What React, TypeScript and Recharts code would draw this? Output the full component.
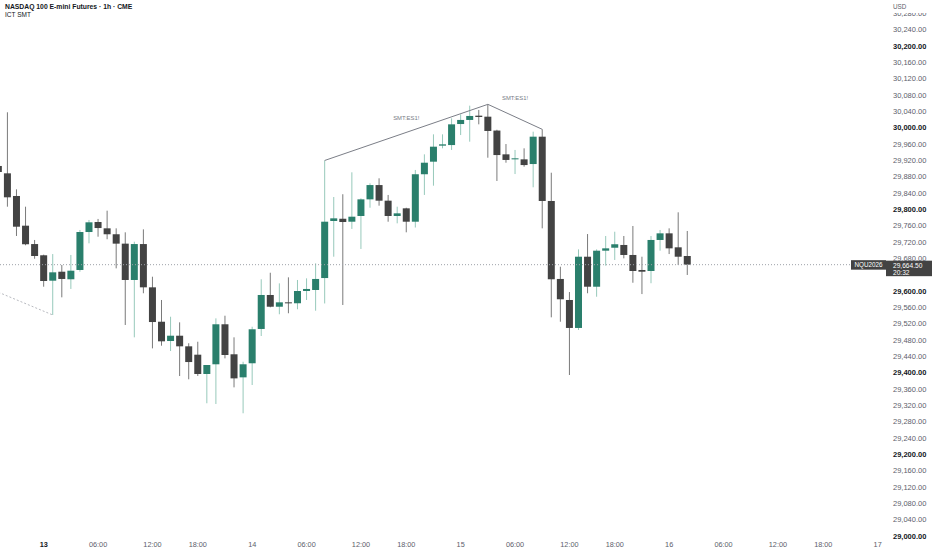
import React from "react";
import { ComposedChart, Bar, XAxis, YAxis, ReferenceLine } from "recharts";

// NQ 1h candles (oldest first)
const opens = [
  29906.25, 29888.25, 29832.75, 29760.0, 29715.0, 29687.5, 29625.25, 29647.25, 29628.75, 29651.5,
  29744.5, 29769.0, 29753.5, 29739.0, 29716.0, 29627.0, 29715.0, 29609.0, 29524.75, 29477.5,
  29490.5, 29464.5, 29444.0, 29396.75, 29420.5, 29518.5, 29445.0, 29388.5, 29423.0, 29507.0,
  29590.25, 29561.5, 29572.25, 29570.0, 29600.0, 29602.5, 29631.75, 29771.5, 29777.0, 29769.75,
  29783.75, 29824.5, 29859.5, 29821.25, 29783.75, 29802.5, 29769.75, 29886.0, 29916.75, 29956.0,
  29957.5, 30009.0, 30019.0, 30029.5, 30027.0, 29993.0, 29934.75, 29922.5, 29922.5, 29911.0,
  29978.0, 29820.5, 29629.5, 29578.0, 29509.5, 29684.0, 29610.5, 29698.75, 29706.0, 29712.75,
  29688.25, 29651.5, 29649.0, 29725.0, 29741.25, 29707.0, 29685.75,
];
const highs = [
  29925.75, 30037.75, 29849.0, 29806.5, 29725.0, 29689.0, 29690.5, 29663.75, 29688.25, 29749.5,
  29774.0, 29776.5, 29796.75, 29753.5, 29743.75, 29720.75, 29751.0, 29635.0, 29578.0, 29537.0,
  29523.25, 29472.0, 29475.75, 29418.75, 29533.0, 29539.5, 29486.5, 29426.75, 29512.5, 29628.75,
  29644.75, 29618.75, 29633.5, 29627.0, 29631.0, 29667.75, 29919.75, 29830.25, 29837.0, 29890.75,
  29827.0, 29863.75, 29876.0, 29835.25, 29806.5, 29804.0, 29896.5, 29934.75, 29983.75, 29983.75,
  30023.0, 30032.75, 30054.0, 30043.5, 30057.25, 29995.0, 29960.0, 29945.5, 29949.5, 29990.25,
  29996.0, 29889.75, 29659.5, 29597.5, 29702.0, 29739.5, 29702.0, 29734.75, 29745.25, 29734.75,
  29759.25, 29684.0, 29734.75, 29749.5, 29753.5, 29792.75, 29747.0,
];
const lows = [
  29872.0, 29806.5, 29734.75, 29712.0, 29679.0, 29610.5, 29541.25, 29584.5, 29605.0, 29647.25,
  29716.75, 29733.0, 29726.75, 29655.5, 29516.75, 29486.5, 29594.5, 29459.5, 29466.0, 29453.0,
  29391.75, 29383.75, 29392.0, 29325.0, 29323.25, 29435.0, 29364.0, 29300.5, 29369.75, 29489.75,
  29560.0, 29543.0, 29545.5, 29555.25, 29578.0, 29551.75, 29569.5, 29684.0, 29565.75, 29752.0,
  29703.0, 29804.0, 29809.0, 29769.75, 29765.75, 29743.75, 29755.5, 29835.25, 29858.0, 29949.5,
  29945.5, 29982.0, 29965.75, 30008.25, 29926.5, 29869.5, 29914.25, 29886.5, 29904.5, 29854.0,
  29753.5, 29535.5, 29524.75, 29394.25, 29504.5, 29594.5, 29586.0, 29662.0, 29676.0, 29680.0,
  29620.25, 29592.5, 29619.0, 29698.75, 29690.5, 29663.75, 29639.25,
];
const closes = [
  29891.5, 29829.5, 29757.5, 29714.5, 29685.75, 29624.5, 29645.75, 29629.5, 29649.75, 29744.5,
  29768.25, 29754.25, 29739.0, 29716.0, 29627.0, 29715.0, 29609.0, 29524.0, 29476.75, 29490.5,
  29464.5, 29426.0, 29396.75, 29418.75, 29518.5, 29443.25, 29386.0, 29420.5, 29506.25, 29590.25,
  29561.5, 29572.25, 29570.0, 29600.0, 29605.0, 29629.5, 29769.75, 29778.0, 29769.0, 29782.0,
  29824.5, 29859.5, 29821.25, 29783.75, 29790.25, 29769.75, 29886.0, 29914.25, 29953.5, 29959.25,
  30008.25, 30019.0, 30028.75, 30026.25, 29992.0, 29933.0, 29921.0, 29925.0, 29908.5, 29978.0,
  29820.5, 29628.75, 29579.75, 29509.5, 29684.0, 29610.5, 29698.75, 29704.5, 29714.5, 29688.25,
  29649.0, 29647.25, 29725.0, 29741.25, 29704.5, 29684.0, 29664.5,
];

// time axis: bar index -> label (session break sits between 12:00 and 18:00)
const xTickIndex = [5, 11, 17, 22, 28, 34, 40, 45, 51, 57, 63, 68, 74, 80, 86, 91, 97];
const xTickLabel = [
  "13", "06:00", "12:00", "18:00", "14", "06:00", "12:00", "18:00", "15",
  "06:00", "12:00", "18:00", "16", "06:00", "12:00", "18:00", "17",
];
const boldDays = ["13"];

const yTicks = [
  29000, 29040, 29080, 29120, 29160, 29200, 29240, 29280, 29320, 29360, 29400,
  29440, 29480, 29520, 29560, 29600, 29640, 29680, 29720, 29760, 29800, 29840,
  29880, 29920, 29960, 30000, 30040, 30080, 30120, 30160, 30200, 30240, 30280,
];

// SMT annotations: bars whose highs are joined, and the bullish one coming from off screen
const smtBearBars = [36, 54, 60];
const smtBullStart = { i: 0, price: 29597 };
const smtBullBar = 6;

const symbol = "NQU2026";
const countdown = "20:32";

const UP_BODY = "#2a7f6c";
const UP_WICK = "#97c9bb";
const DN_BODY = "#434343";
const DN_WICK = "#7a7a7a";
const FONT = '"Liberation Sans", Arial, sans-serif';

const lastPrice = closes[closes.length - 1];

const rows = opens.map((o, i) => ({
  i,
  open: o,
  high: highs[i],
  low: lows[i],
  close: closes[i],
  range: [lows[i], highs[i]],
}));

const fmt = (v: number) =>
  v.toLocaleString("en-US", { minimumFractionDigits: 2, maximumFractionDigits: 2 });

const Candle = (props: any) => {
  const { x, y, width, height, payload } = props;
  if (height == null || !payload) return null;
  const { open, close, high, low } = payload;
  const up = close >= open;
  const k = high === low ? 0 : height / (high - low);
  const top = y + (high - Math.max(open, close)) * k;
  const bot = y + (high - Math.min(open, close)) * k;
  const cx = x + width / 2;
  return (
    <g>
      <line x1={cx} x2={cx} y1={y} y2={y + height} stroke={up ? UP_WICK : DN_WICK} strokeWidth={1} />
      <rect x={x} y={top} width={width} height={Math.max(1, bot - top)} fill={up ? UP_BODY : DN_BODY} />
    </g>
  );
};

const PriceTick = (props: any) => {
  const { x, y, payload } = props;
  // the last-price tag covers the label just under it
  if (payload.value < lastPrice && lastPrice - payload.value < 36) return null;
  const major = payload.value % 200 === 0;
  return (
    <text
      x={x}
      y={y}
      dy="0.35em"
      textAnchor="start"
      fontSize={7.5}
      fontFamily={FONT}
      fontWeight={major ? 700 : 400}
      fill={major ? "#131722" : "#5d606b"}
    >
      {fmt(payload.value)}
    </text>
  );
};

const TimeTick = (props: any) => {
  const { x, y, payload } = props;
  const label = xTickLabel[xTickIndex.indexOf(payload.value)] ?? "";
  const bold = boldDays.includes(label);
  return (
    <text
      x={x}
      y={y}
      dy="0.71em"
      textAnchor="middle"
      fontSize={7.3}
      fontFamily={FONT}
      fontWeight={bold ? 700 : 400}
      fill={bold ? "#131722" : "#5d606b"}
    >
      {label}
    </text>
  );
};

const smtLabel = (dy: number) => (props: any) => {
  const vb = props.viewBox;
  if (!vb) return null;
  return (
    <text
      x={vb.x + vb.width / 2}
      y={vb.y + vb.height / 2 + dy}
      dy="0.35em"
      textAnchor="middle"
      fontSize={5.9}
      fontFamily={FONT}
      fill="#787b86"
    >
      SMT:ES1!
    </text>
  );
};

const PriceTag = (props: any) => {
  const vb = props.viewBox;
  if (!vb) return null;
  const right = vb.x + vb.width;
  const cy = vb.y;
  return (
    <g>
      <rect x={right - 35} y={cy - 4.5} width={35} height={9.5} fill={DN_BODY} />
      <text x={right - 17.5} y={cy + 0.3} dy="0.35em" textAnchor="middle" fontSize={6.3} fontFamily={FONT} fill="#ffffff">
        {symbol}
      </text>
      <rect x={right} y={cy - 4} width={46} height={15.5} fill={DN_BODY} />
      <text x={right + 7} y={cy + 1.2} dy="0.35em" fontSize={6.6} fontFamily={FONT} fill="#ffffff">
        {fmt(lastPrice)}
      </text>
      <text x={right + 7} y={cy + 8} dy="0.35em" fontSize={6.6} fontFamily={FONT} fill="#ffffff">
        {countdown}
      </text>
    </g>
  );
};

export default function App() {
  const [a, b, c] = smtBearBars;
  return (
    <div style={{ position: "relative", width: 932, height: 550, background: "#ffffff", fontFamily: FONT }}>
      <style>{`body{margin:0;background:#fff}`}</style>
      <ComposedChart width={932} height={550} data={rows} margin={{ top: 0, right: 0, bottom: 0, left: 0 }}>
        <XAxis
          dataKey="i"
          type="number"
          domain={[0.179, 97.92]}
          allowDataOverflow
          ticks={xTickIndex}
          interval={0}
          axisLine={false}
          tickLine={false}
          tickSize={0}
          tickMargin={4}
          height={12}
          tick={<TimeTick />}
        />
        <YAxis
          orientation="right"
          type="number"
          domain={[28995, 30312.8]}
          allowDataOverflow
          ticks={yTicks}
          interval={0}
          axisLine={false}
          tickLine={false}
          tickMargin={1}
          width={46}
          tick={<PriceTick />}
        />
        <ReferenceLine
          segment={[
            { x: smtBullStart.i, y: smtBullStart.price },
            { x: smtBullBar, y: lows[smtBullBar] },
          ]}
          stroke="#b8bac0"
          strokeDasharray="2 2"
          strokeWidth={1}
          ifOverflow="hidden"
        />
        <ReferenceLine
          segment={[
            { x: a, y: highs[a] },
            { x: b, y: highs[b] },
          ]}
          stroke="#7b7e87"
          strokeWidth={1}
          ifOverflow="hidden"
          label={smtLabel(-14)}
        />
        <ReferenceLine
          segment={[
            { x: b, y: highs[b] },
            { x: c, y: highs[c] },
          ]}
          stroke="#7b7e87"
          strokeWidth={1}
          ifOverflow="hidden"
          label={smtLabel(-19)}
        />
        <ReferenceLine y={lastPrice} stroke="#9ea1a8" strokeDasharray="1 2" strokeWidth={1} />
        <Bar dataKey="range" barSize={7} shape={<Candle />} isAnimationActive={false} />
        <ReferenceLine y={lastPrice} stroke="none" label={PriceTag} />
      </ComposedChart>
      <div style={{ position: "absolute", left: 5, top: 3, fontSize: 6.8, lineHeight: "7px", fontWeight: 700, color: "#131722", whiteSpace: "nowrap" }}>
        NASDAQ 100 E-mini Futures · 1h · CME
      </div>
      <div style={{ position: "absolute", left: 5, top: 10.5, fontSize: 6.5, lineHeight: "7px", color: "#131722", whiteSpace: "nowrap" }}>
        ICT SMT
      </div>
      <div style={{ position: "absolute", left: 886, top: 0, width: 46, height: 13, background: "#ffffff" }}>
        <span style={{ position: "absolute", left: 7, top: 2.5, fontSize: 6.3, lineHeight: "7px", color: "#5d606b" }}>USD</span>
      </div>
    </div>
  );
}
